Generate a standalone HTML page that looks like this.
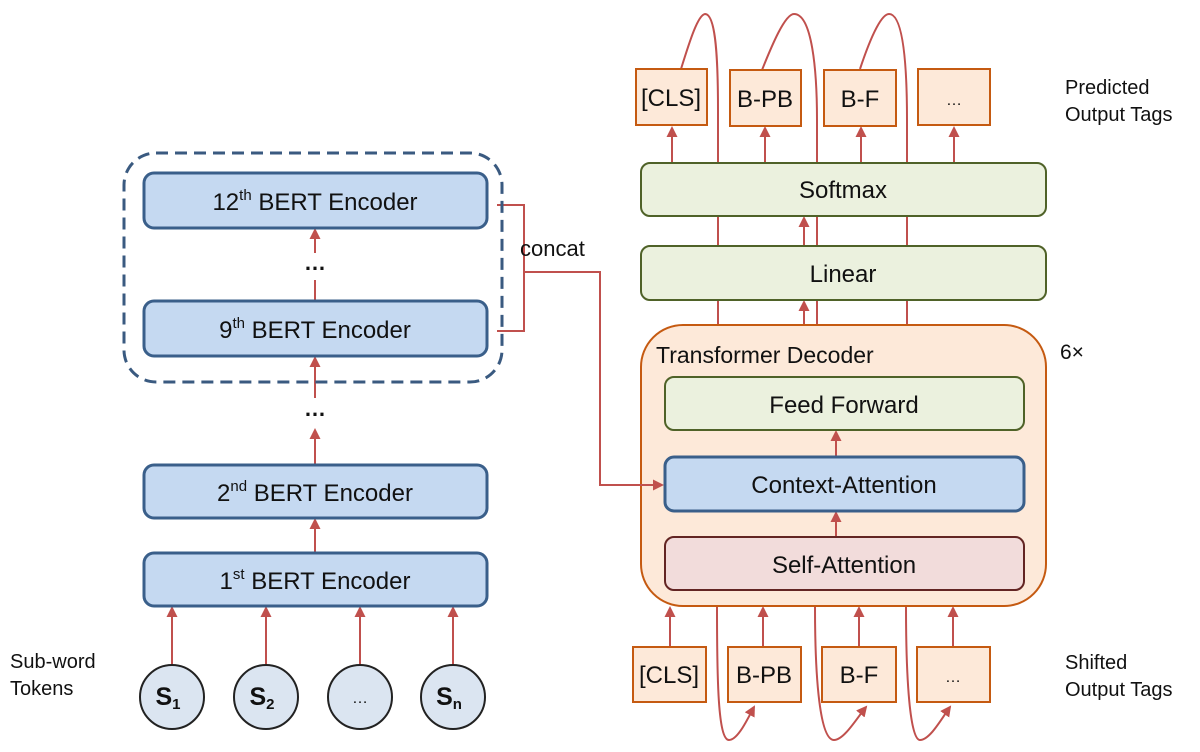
<!DOCTYPE html>
<html><head><meta charset="utf-8"><style>
html,body{margin:0;padding:0;background:#fff;}
svg{display:block;font-family:"Liberation Sans","Noto Sans CJK KR",sans-serif;}
</style></head><body>
<svg width="1200" height="752" viewBox="0 0 1200 752" xmlns="http://www.w3.org/2000/svg">
<defs>
<marker id="ah" markerWidth="11" markerHeight="11" refX="9" refY="5.5" orient="auto" markerUnits="userSpaceOnUse">
<path d="M0,0 L11,5.5 L0,11 Z" fill="#c0504d"/></marker>
</defs>
<g fill="none" stroke="#c0504d" stroke-width="2">
<line x1="315" y1="300" x2="315" y2="280"/>
<line x1="315" y1="253" x2="315" y2="230" marker-end="url(#ah)"/>
<line x1="315" y1="464" x2="315" y2="430" marker-end="url(#ah)"/>
<line x1="315" y1="398" x2="315" y2="358" marker-end="url(#ah)"/>
<line x1="315" y1="552" x2="315" y2="520" marker-end="url(#ah)"/>
<line x1="172" y1="664" x2="172" y2="608" marker-end="url(#ah)"/>
<line x1="266" y1="664" x2="266" y2="608" marker-end="url(#ah)"/>
<line x1="360" y1="664" x2="360" y2="608" marker-end="url(#ah)"/>
<line x1="453" y1="664" x2="453" y2="608" marker-end="url(#ah)"/>
<path d="M497,205 H524 V331 H497"/>
<line x1="672" y1="162" x2="672" y2="128" marker-end="url(#ah)"/>
<line x1="765" y1="162" x2="765" y2="128" marker-end="url(#ah)"/>
<line x1="861" y1="162" x2="861" y2="128" marker-end="url(#ah)"/>
<line x1="954" y1="162" x2="954" y2="128" marker-end="url(#ah)"/>
<line x1="804" y1="245" x2="804" y2="218" marker-end="url(#ah)"/>
<line x1="804" y1="325" x2="804" y2="302" marker-end="url(#ah)"/>
<line x1="670" y1="647" x2="670" y2="608" marker-end="url(#ah)"/>
<line x1="763" y1="647" x2="763" y2="608" marker-end="url(#ah)"/>
<line x1="859" y1="647" x2="859" y2="608" marker-end="url(#ah)"/>
<line x1="953" y1="647" x2="953" y2="608" marker-end="url(#ah)"/>
<path d="M681,69 C690,40 698,15 705,14 C716,14 718,60 718,110 V325"/>
<path d="M762,70 C772,45 785,14 794,14 C812,14 817,70 817,120 V325"/>
<path d="M860,69 C868,45 880,14 889,14 C904,14 907,70 907,120 V325"/>
<path d="M717,607 C717,680 718,740 729,740 C738,740 748,718 754,707" marker-end="url(#ah)"/>
<path d="M815,607 C815,680 820,740 834,740 C844,740 857,718 866,707" marker-end="url(#ah)"/>
<path d="M906,607 C906,680 910,740 920,740 C930,740 942,718 950,707" marker-end="url(#ah)"/>
</g>
<rect x="124" y="153" width="378" height="229" rx="32" fill="none" stroke="#3a5a80" stroke-width="3" stroke-dasharray="12,7"/>
<g fill="#c5d9f1" stroke="#3a5f8a" stroke-width="3">
<rect x="144" y="173" width="343" height="55" rx="10"/>
<rect x="144" y="301" width="343" height="55" rx="10"/>
<rect x="144" y="465" width="343" height="53" rx="10"/>
<rect x="144" y="553" width="343" height="53" rx="10"/>
</g>
<g stroke="#222" stroke-width="2" fill="#dbe5f1">
<circle cx="172" cy="697" r="32"/><circle cx="266" cy="697" r="32"/>
<circle cx="360" cy="697" r="32"/><circle cx="453" cy="697" r="32"/>
</g>
<g font-size="24" fill="#111" text-anchor="middle">
<text x="315" y="210">12<tspan font-size="15" dy="-10">th</tspan><tspan dy="10"> BERT Encoder</tspan></text>
<text x="315" y="338">9<tspan font-size="15" dy="-10">th</tspan><tspan dy="10"> BERT Encoder</tspan></text>
<text x="315" y="501">2<tspan font-size="15" dy="-10">nd</tspan><tspan dy="10"> BERT Encoder</tspan></text>
<text x="315" y="589">1<tspan font-size="15" dy="-10">st</tspan><tspan dy="10"> BERT Encoder</tspan></text>
<text x="315" y="270" font-weight="bold" font-size="22">…</text>
<text x="315" y="416" font-weight="bold" font-size="22">…</text>
<text x="168" y="705" font-weight="bold" font-size="25">S<tspan font-size="15" dy="4">1</tspan></text>
<text x="262" y="705" font-weight="bold" font-size="25">S<tspan font-size="15" dy="4">2</tspan></text>
<text x="360" y="703" font-size="16">…</text>
<text x="449" y="705" font-weight="bold" font-size="25">S<tspan font-size="15" dy="4">n</tspan></text>
</g>
<g font-size="20" fill="#111">
<text x="10" y="668">Sub-word</text><text x="10" y="695">Tokens</text>
<text x="520" y="256" font-size="22">concat</text>
<text x="1065" y="94">Predicted</text><text x="1065" y="121">Output Tags</text>
<text x="1065" y="669">Shifted</text><text x="1065" y="696">Output Tags</text>
<text x="1060" y="359" font-size="21">6×</text>
</g>
<rect x="641" y="325" width="405" height="281" rx="42" fill="#fde9d9" stroke="#c55a11" stroke-width="2"/>
<g fill="none" stroke="#c0504d" stroke-width="2">
<path d="M524,272 H600 V485 H662" marker-end="url(#ah)"/>
<line x1="836" y1="456" x2="836" y2="432" marker-end="url(#ah)"/>
<line x1="836" y1="536" x2="836" y2="513" marker-end="url(#ah)"/>
</g>
<g fill="#ebf1de" stroke="#4f6228" stroke-width="2">
<rect x="641" y="163" width="405" height="53" rx="9"/>
<rect x="641" y="246" width="405" height="54" rx="9"/>
<rect x="665" y="377" width="359" height="53" rx="9"/>
</g>
<rect x="665" y="457" width="359" height="54" rx="9" fill="#c5d9f1" stroke="#3a5f8a" stroke-width="3"/>
<rect x="665" y="537" width="359" height="53" rx="9" fill="#f2dcdb" stroke="#632523" stroke-width="2"/>
<g fill="#fde9d9" stroke="#c55a11" stroke-width="2">
<rect x="636" y="69" width="71" height="56"/><rect x="730" y="70" width="71" height="56"/>
<rect x="824" y="70" width="72" height="56"/><rect x="918" y="69" width="72" height="56"/>
<rect x="633" y="647" width="73" height="55"/><rect x="728" y="647" width="73" height="55"/>
<rect x="822" y="647" width="74" height="55"/><rect x="917" y="647" width="73" height="55"/>
</g>
<g font-size="24" fill="#111" text-anchor="middle">
<text x="843" y="198">Softmax</text>
<text x="843" y="282">Linear</text>
<text x="844" y="413">Feed Forward</text>
<text x="844" y="493">Context-Attention</text>
<text x="844" y="573">Self-Attention</text>
<text x="671" y="106">[CLS]</text><text x="765" y="107">B-PB</text>
<text x="860" y="107">B-F</text><text x="954" y="105" font-size="16">…</text>
<text x="669" y="683">[CLS]</text><text x="764" y="683">B-PB</text>
<text x="859" y="683">B-F</text><text x="953" y="682" font-size="16">…</text>
</g>
<text x="656" y="363" font-size="23" fill="#111">Transformer Decoder</text>
</svg>
</body></html>
